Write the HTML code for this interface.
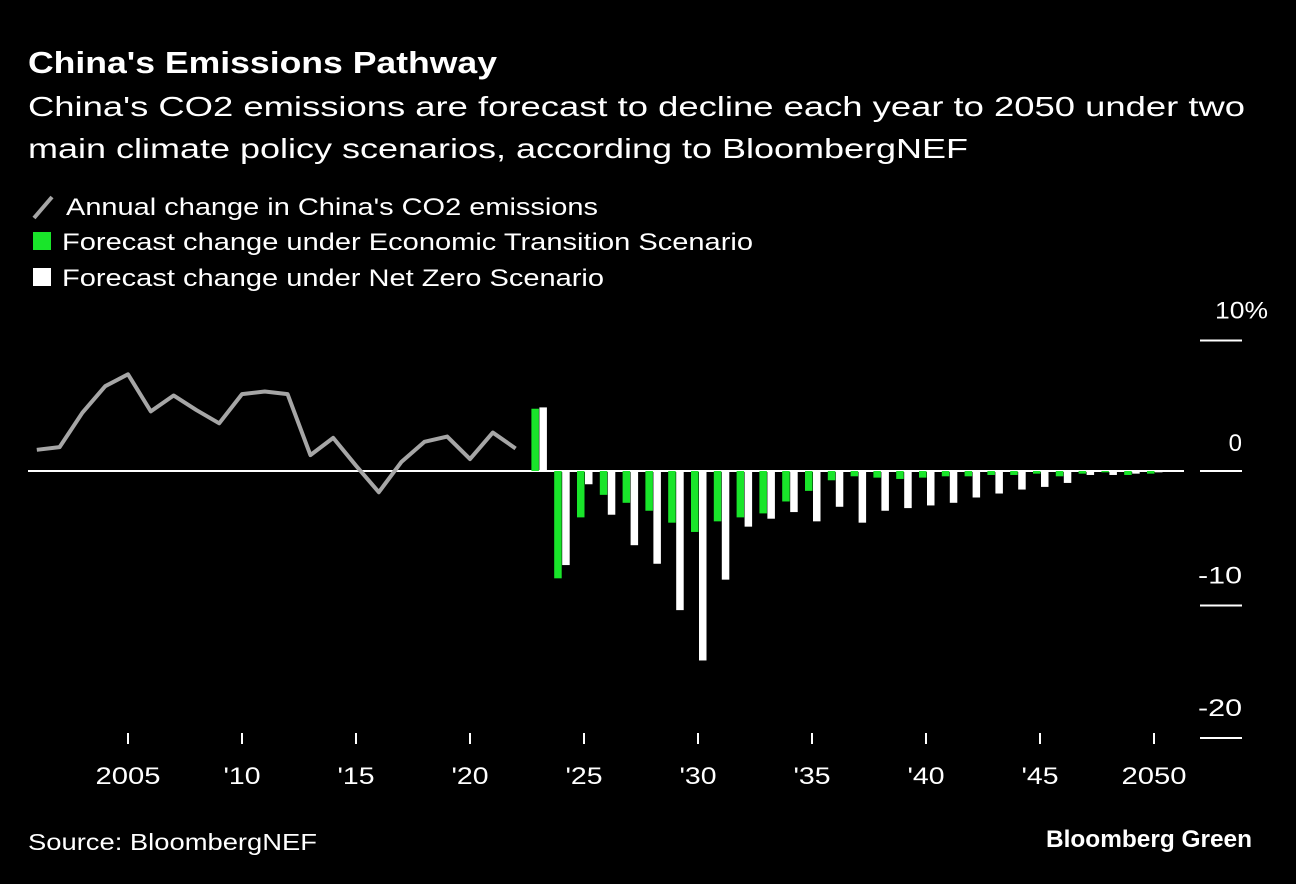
<!DOCTYPE html>
<html><head><meta charset="utf-8"><style>
html,body{margin:0;padding:0;background:#000;}
body{width:1296px;height:884px;overflow:hidden;font-family:"Liberation Sans",sans-serif;color:#fff;position:relative;}
</style></head><body>
<svg width="1296" height="884" style="position:absolute;left:0;top:0" font-family="Liberation Sans" fill="#fff">
<text x="28" y="73" font-size="31" font-weight="bold" textLength="469" lengthAdjust="spacingAndGlyphs">China's Emissions Pathway</text>
<text x="28" y="116" font-size="28" textLength="1217" lengthAdjust="spacingAndGlyphs">China's CO2 emissions are forecast to decline each year to 2050 under two</text>
<text x="28" y="158" font-size="28" textLength="940" lengthAdjust="spacingAndGlyphs">main climate policy scenarios, according to BloombergNEF</text>
<g><line x1="34" y1="218" x2="52" y2="197" stroke="#a6a6a6" stroke-width="4"/><text x="66" y="215" font-size="24" textLength="532" lengthAdjust="spacingAndGlyphs">Annual change in China's CO2 emissions</text></g>
<g><rect x="33" y="232" width="18" height="18" fill="#19e52a"/><text x="62" y="250" font-size="24" textLength="691" lengthAdjust="spacingAndGlyphs">Forecast change under Economic Transition Scenario</text></g>
<g><rect x="33" y="268" width="18" height="18" fill="#fff"/><text x="62" y="286" font-size="24" textLength="542" lengthAdjust="spacingAndGlyphs">Forecast change under Net Zero Scenario</text></g>
<text x="28" y="850" font-size="23" textLength="289" lengthAdjust="spacingAndGlyphs">Source: BloombergNEF</text>
<text x="1046" y="847" font-size="24" font-weight="bold" textLength="206" lengthAdjust="spacingAndGlyphs">Bloomberg Green</text>
</svg>
<svg id="chart" width="1296" height="884" style="position:absolute;left:0;top:0"></svg>
<script>
const histYears=[2001,2002,2003,2004,2005,2006,2007,2008,2009,2010,2011,2012,2013,2014,2015,2016,2017,2018,2019,2020,2021,2022];
const histValues=[1.6,1.8,4.4,6.4,7.3,4.5,5.7,4.6,3.6,5.8,6.0,5.8,1.2,2.5,0.4,-1.6,0.7,2.2,2.6,0.9,2.9,1.7];
const fcYears=[2023,2024,2025,2026,2027,2028,2029,2030,2031,2032,2033,2034,2035,2036,2037,2038,2039,2040,2041,2042,2043,2044,2045,2046,2047,2048,2049,2050];
const etsValues=[4.7,-8.1,-3.5,-1.8,-2.4,-3.0,-3.9,-4.6,-3.8,-3.5,-3.2,-2.3,-1.5,-0.7,-0.4,-0.5,-0.6,-0.5,-0.4,-0.4,-0.3,-0.3,-0.2,-0.4,-0.2,-0.1,-0.3,-0.2];
const nzsValues=[4.8,-7.1,-1.0,-3.3,-5.6,-7.0,-10.5,-14.3,-8.2,-4.2,-3.6,-3.1,-3.8,-2.7,-3.9,-3.0,-2.8,-2.6,-2.4,-2.0,-1.7,-1.4,-1.2,-0.9,-0.3,-0.3,-0.2,-0.1];
const xTickYears=[2005,2010,2015,2020,2025,2030,2035,2040,2045,2050];
const xTickLabels=["2005","'10","'15","'20","'25","'30","'35","'40","'45","2050"];
const yTicks=[10,0,-10,-20];
const yTickLabels=["10%","0","-10","-20"];

const X=y=>128+(y-2005)*22.8;
const Y=v=>471-v*13.25;
const svg=document.getElementById('chart');
const NS='http://www.w3.org/2000/svg';
function mk(tag,attrs){const e=document.createElementNS(NS,tag);for(const k in attrs)e.setAttribute(k,attrs[k]);svg.appendChild(e);return e;}

yTicks.forEach((v,i)=>{
  const l=mk('line',{x1:1200,x2:1242,y1:Y(v)+(v===0?0:2),y2:Y(v)+(v===0?0:2),stroke:'#fff','stroke-width':2});
  
  
  const lab=yTickLabels[i];
  const t=mk('text',{x:v===10?1268:1242,y:Y(v)-20,'text-anchor':'end','font-size':24,fill:'#fff','font-family':'Liberation Sans'});
  if(lab.length>1){t.setAttribute('textLength',lab.length*16+ (lab.indexOf('%')>=0?5:-4));t.setAttribute('lengthAdjust','spacingAndGlyphs');}
  t.textContent=lab;
  
  
});
const z=mk('line',{x1:28,x2:1184,y1:Y(0),y2:Y(0),stroke:'#fff','stroke-width':2});



xTickYears.forEach((yr,i)=>{
  const l=mk('line',{x1:X(yr),x2:X(yr),y1:733,y2:744,stroke:'#fff','stroke-width':2});
  
  
  const lab=xTickLabels[i];
  const t=mk('text',{x:X(yr),y:784,'text-anchor':'middle','font-size':24,fill:'#fff','font-family':'Liberation Sans',textLength:lab.length===4?65:37,lengthAdjust:'spacingAndGlyphs'});
  t.textContent=lab;
  
  
});

fcYears.forEach((yr,i)=>{
  const cx=X(yr)+1;
  [[etsValues[i],cx-8,'#19e52a','bar-economic-transition'],[nzsValues[i],cx,'#fff','bar-net-zero']].forEach(([v,x,c,n])=>{
    const top=Math.min(Y(v),Y(0)), h=Math.max(Math.abs(Y(v)-Y(0)),1);
    const r=mk('rect',{x:x,y:top,width:7.5,height:h,fill:c});
    
    
  });
});

const pts=histYears.map((yr,i)=>X(yr)+','+Y(histValues[i])).join(' ');
const pl=mk('polyline',{points:pts,fill:'none',stroke:'#a6a6a6','stroke-width':4,'stroke-linejoin':'round'});


</script>
</body></html>
